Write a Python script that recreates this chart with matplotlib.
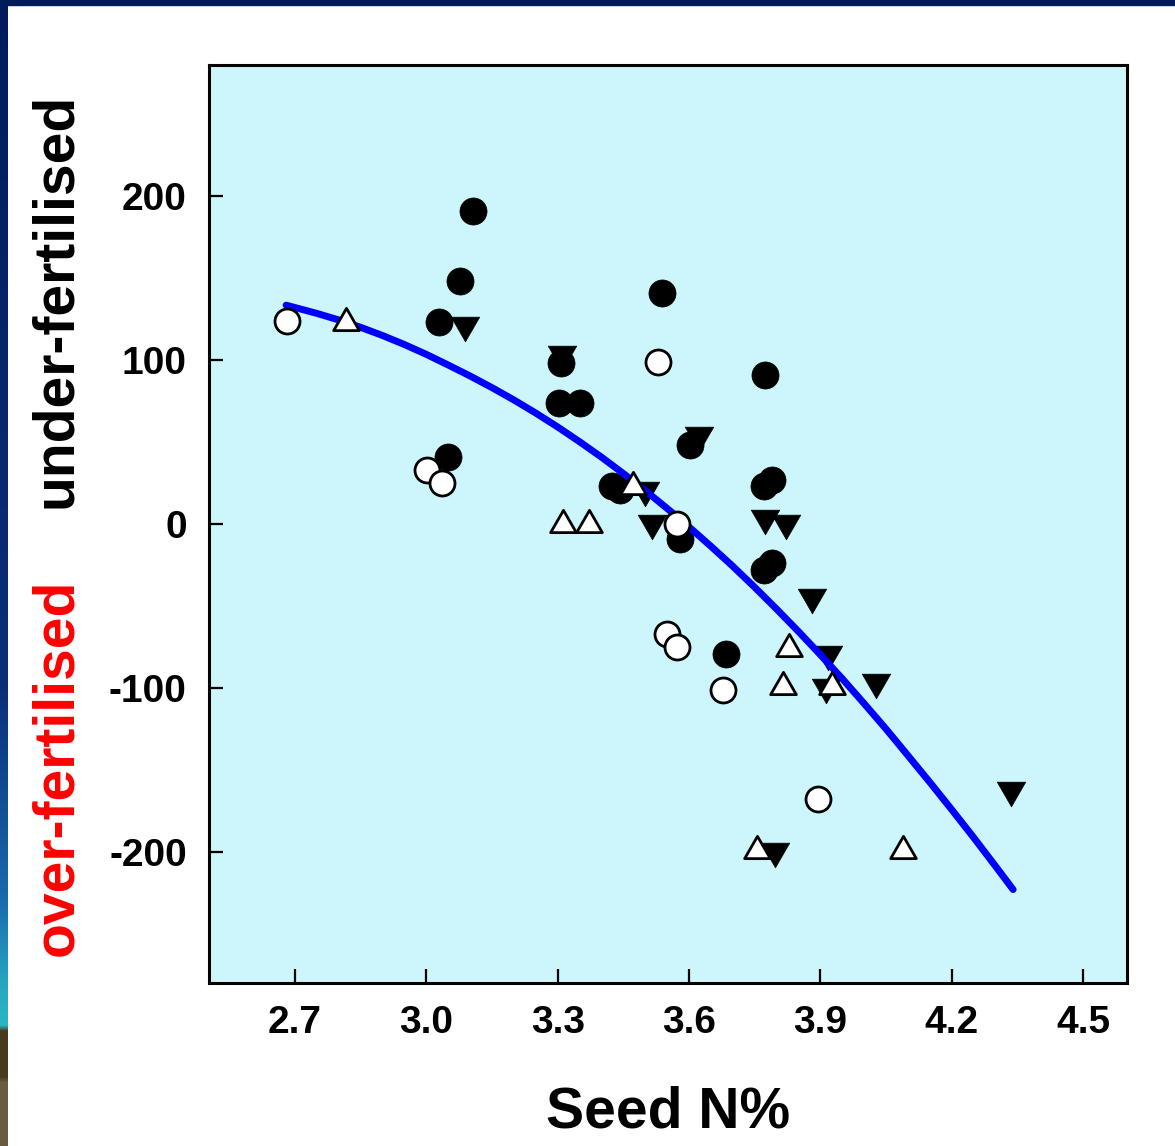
import matplotlib.pyplot as plt
import numpy as np
from matplotlib.patches import Rectangle
from matplotlib.path import Path

plt.rcParams["font.family"] = ["Liberation Sans", "DejaVu Sans"]
plt.rcParams["font.weight"] = "bold"
plt.rcParams["axes.unicode_minus"] = False

# black filled circles
filled_circle_x = [3.107, 3.077, 3.029, 3.308, 3.303, 3.351, 3.050, 3.538, 3.774, 3.602,
                   3.424, 3.443, 3.789, 3.772, 3.580, 3.772, 3.790, 3.685]
filled_circle_y = [191, 148, 123, 98, 74, 74, 41, 141, 91, 48,
                   23, 21, 27, 23, -9, -28, -24, -79]

# black inverted triangles
filled_tri_x = [3.088, 3.310, 3.623, 3.500, 3.516, 3.774, 3.822, 3.881, 3.918, 3.913,
                4.027, 4.336, 3.797]
filled_tri_y = [119, 101, 52, 18, -2, 1, -2, -47, -82, -102,
                -99, -165, -202]

# open circles
open_circle_x = [2.681, 3.529, 3.002, 3.036, 3.573, 3.550, 3.573, 3.678, 3.895]
open_circle_y = [124, 99, 33, 25, 0, -67, -75, -101, -168]

# open triangles
open_tri_x = [2.817, 3.312, 3.372, 3.472, 3.829, 3.815, 3.927, 3.755, 4.089]
open_tri_y = [125, 2, 2, 25, -74, -97, -97, -197, -197]

# fitted curve
curve_x = [2.68, 2.75, 2.80, 2.85, 2.90, 2.95, 3.00, 3.05, 3.10, 3.15, 3.20, 3.25,
           3.30, 3.35, 3.40, 3.45, 3.50, 3.55, 3.60, 3.65, 3.70, 3.75, 3.80, 3.85,
           3.90, 3.95, 4.00, 4.05, 4.10, 4.15, 4.20, 4.25, 4.30, 4.34]
curve_y = [133.5, 128.5, 124.5, 120.0, 115.0, 109.5, 103.5, 97.0, 90.3, 83.2, 75.7, 67.7,
           59.2, 50.2, 40.8, 30.8, 20.4, 9.5, -1.8, -13.6, -25.8, -38.6, -51.9, -65.6,
           -79.8, -94.4, -109.6, -125.1, -141.3, -157.6, -174.3, -191.3, -208.8, -223.0]

x_ticks = [2.7, 3.0, 3.3, 3.6, 3.9, 4.2, 4.5]
x_tick_labels = ["2.7", "3.0", "3.3", "3.6", "3.9", "4.2", "4.5"]
y_ticks = [-200, -100, 0, 100, 200]
y_tick_labels = ["-200", "-100", "0", "100", "200"]

W, H = 1175, 1146
fig = plt.figure(figsize=(W / 100, H / 100), dpi=100)
fig.patch.set_facecolor("white")

# slide frame: navy strip on top, gradient strip on the left
fig.patches.append(Rectangle((0, 1 - 5 / H), 1, 5 / H, transform=fig.transFigure,
                             color="#001c5a", zorder=0))
stops = [0.0, 0.6, 0.785, 0.86, 0.895, 0.9, 0.94, 0.945, 1.0]
cols = np.array([[0, 28, 90], [10, 47, 120], [26, 106, 172], [40, 168, 192],
                 [42, 180, 196], [74, 58, 28], [74, 58, 28], [106, 90, 66],
                 [106, 90, 66]]) / 255
rows = np.linspace(0, 1, H)
grad = np.stack([np.interp(rows, stops, cols[:, k]) for k in range(3)], axis=1)
bax = fig.add_axes([0, 0, 8 / W, 1])
bax.imshow(grad[:, None, :], aspect="auto")
bax.axis("off")

ax = fig.add_axes([209 / W, 1 - 983 / H, (1127 - 209) / W, (983 - 65) / H])
ax.set_facecolor("#ccf6fb")

codes = [Path.MOVETO, Path.LINETO, Path.LINETO, Path.CLOSEPOLY]
tri_up = Path([(-1, -0.866), (1, -0.866), (0, 0.866), (-1, -0.866)], codes)
tri_down = Path([(-1, 0.866), (1, 0.866), (0, -0.866), (-1, 0.866)], codes)

ax.plot(filled_circle_x, filled_circle_y, linestyle="None", marker="o", markersize=19.5,
        markerfacecolor="black", markeredgecolor="black", markeredgewidth=0.5, zorder=3)
ax.plot(filled_tri_x, filled_tri_y, linestyle="None", marker=tri_down, markersize=20.5,
        markerfacecolor="black", markeredgecolor="black", markeredgewidth=0.5, zorder=3)
ax.plot(curve_x, curve_y, "-", color="#0000ff", linewidth=5,
        solid_capstyle="round", solid_joinstyle="round", zorder=4)
ax.plot(open_circle_x, open_circle_y, linestyle="None", marker="o", markersize=18,
        markerfacecolor="white", markeredgecolor="black", markeredgewidth=2, zorder=5)
ax.plot(open_tri_x, open_tri_y, linestyle="None", marker=tri_up, markersize=18.5,
        markerfacecolor="white", markeredgecolor="black", markeredgewidth=2, zorder=5)

ax.set_xlim(2.504, 4.6)
ax.set_ylim(-280, 280)
ax.set_xticks(x_ticks)
ax.set_xticklabels(x_tick_labels)
ax.set_yticks(y_ticks)
ax.set_yticklabels(y_tick_labels)
ax.tick_params(direction="in", length=10, width=1.6, labelsize=28, pad=16)
for s in ax.spines.values():
    s.set_linewidth(2.2)

fig.text(668 / W, 1 - 1128 / H, "Seed N%", ha="center", va="baseline",
         fontsize=41, fontweight="bold")
fig.text(71 / W, 1 - 300 / H, "under-fertilised", rotation=90, rotation_mode="anchor",
         ha="center", va="baseline", fontsize=41, fontweight="bold", color="black")
fig.text(72 / W, 1 - 767 / H, "over-fertilised", rotation=90, rotation_mode="anchor",
         ha="center", va="baseline", fontsize=41, fontweight="bold", color="#ff0000")

fig.savefig("out.png", dpi=100)
